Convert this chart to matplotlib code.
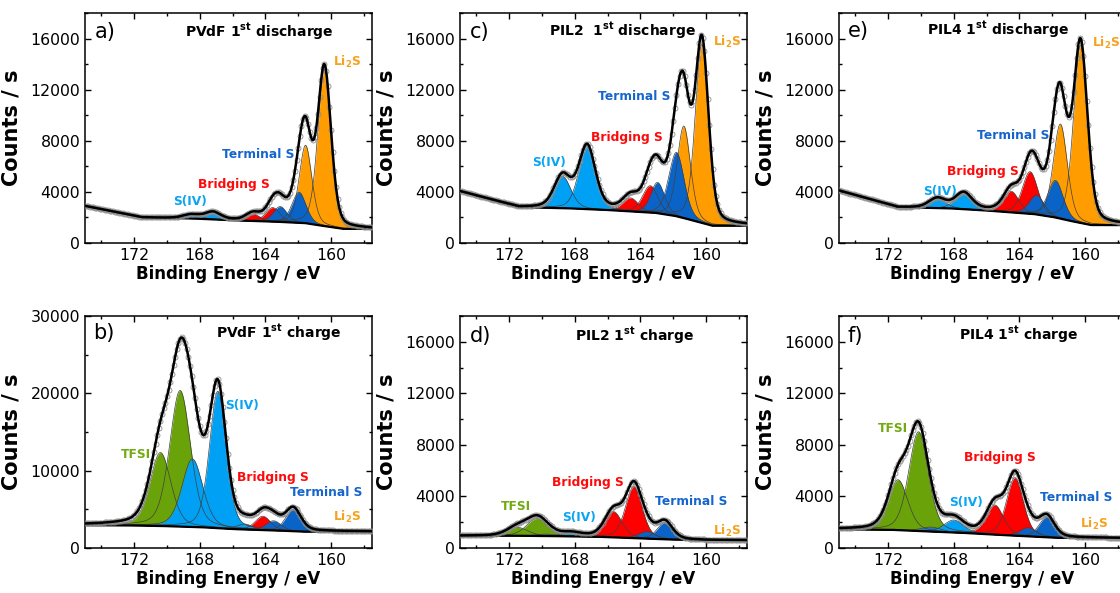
import numpy as np
import matplotlib.pyplot as plt
from matplotlib.ticker import MultipleLocator

plt.rcParams['font.family'] = ['DejaVu Sans']
plt.rcParams['mathtext.fontset'] = 'dejavusans'

FILL = {
    'li2s': '#FF9D00',
    'term': '#0A64C8',
    'bridge': '#FF0000',
    'siv': '#00A0F5',
    'sivb': '#1E78DC',
    'tfsi': '#6AA20A',
}
TEXTC = {
    'li2s': '#F7A21E',
    'term': '#1565CC',
    'bridge': '#FF0A0A',
    'siv': '#0AA5F2',
    'tfsi': '#72AA12',
}
# fill order seen in the figure (later ones sit on top)
ORDER = ['tfsi', 'li2s', 'bridge', 'term', 'sivb', 'siv']

# ---- a) PVdF 1st discharge ----
a_kind = ['siv', 'siv', 'bridge', 'bridge', 'term', 'term', 'li2s', 'li2s']
a_center = [168.5, 167.2, 164.75, 163.55, 163.1, 161.95, 161.55, 160.4]
a_height = [300, 550, 550, 1100, 1200, 2400, 6100, 12300]
a_fwhm = [1.2, 1.1, 1.0, 1.0, 1.0, 1.0, 0.9, 0.95]
a_bg_e = [175, 171.5, 168, 165.5, 163, 161.5, 160.3, 159.2, 157.5]
a_bg_y = [2900, 2000, 1900, 1750, 1650, 1550, 1300, 1100, 1100]

# ---- b) PVdF 1st charge ----
b_kind = ['tfsi', 'tfsi', 'siv', 'siv', 'bridge', 'bridge', 'term', 'term']
b_center = [170.4, 169.2, 168.45, 166.9, 165.25, 164.15, 163.5, 162.3]
b_height = [9500, 17600, 8800, 17700, 700, 1800, 1250, 2800]
b_fwhm = [1.5, 1.5, 1.5, 1.2, 1.1, 1.1, 1.1, 1.1]
b_bg_e = [175, 171.5, 169.5, 167.5, 166, 164, 162.5, 161.5, 157.5]
b_bg_y = [2950, 2900, 2800, 2650, 2450, 2300, 2200, 2100, 2100]

# ---- c) PIL2 1st discharge ----
c_kind = ['siv', 'siv', 'bridge', 'bridge', 'term', 'term', 'li2s', 'li2s']
c_center = [168.75, 167.25, 164.6, 163.4, 162.95, 161.8, 161.35, 160.25]
c_height = [2500, 4900, 1050, 2100, 2400, 5000, 7200, 14000]
c_fwhm = [1.2, 1.2, 1.1, 1.1, 1.0, 1.1, 0.95, 0.95]
c_bg_e = [175, 171.4, 168, 165.5, 163, 161.8, 160.6, 159.6, 157.5]
c_bg_y = [4050, 2800, 2700, 2550, 2350, 2100, 1700, 1350, 1350]

# ---- d) PIL2 1st charge ----
d_kind = ['tfsi', 'tfsi', 'sivb', 'siv', 'bridge', 'bridge', 'term', 'term']
d_center = [171.5, 170.3, 169.7, 168.2, 165.65, 164.4, 163.6, 162.5]
d_height = [650, 1350, 150, 250, 2000, 4000, 550, 1300]
d_fwhm = [1.5, 1.5, 1.4, 1.4, 1.25, 1.2, 1.2, 1.1]
d_bg_e = [175, 171, 168, 166, 164, 162, 160, 157.5]
d_bg_y = [950, 950, 900, 850, 750, 650, 600, 600]

# ---- e) PIL4 1st discharge ----
e_kind = ['siv', 'siv', 'bridge', 'bridge', 'term', 'term', 'li2s', 'li2s']
e_center = [169.0, 167.4, 164.5, 163.35, 162.95, 161.8, 161.5, 160.27]
e_height = [750, 1250, 1650, 3300, 1500, 2900, 7400, 13900]
e_fwhm = [1.2, 1.2, 1.1, 1.1, 1.1, 1.1, 1.0, 1.0]
e_bg_e = [175, 171.4, 168, 165.5, 163, 161.8, 160.6, 159.6, 157.5]
e_bg_y = [4100, 2800, 2700, 2500, 2250, 2000, 1650, 1400, 1400]

# ---- f) PIL4 1st charge ----
f_kind = ['tfsi', 'tfsi', 'sivb', 'siv', 'bridge', 'bridge', 'term', 'term']
f_center = [171.4, 170.15, 169.35, 168.0, 165.5, 164.27, 163.46, 162.33]
f_height = [3900, 7700, 350, 970, 2300, 4500, 670, 1550]
f_fwhm = [1.4, 1.4, 1.4, 1.4, 1.25, 1.2, 1.2, 1.1]
f_bg_e = [175, 171.5, 169, 167, 165, 163, 161.5, 157.5]
f_bg_y = [1450, 1400, 1250, 1150, 1000, 880, 780, 760]


def peak(e, c, h, w, eta=0.3):
    d = (e - c) / w
    return h * ((1 - eta) * np.exp(-4 * np.log(2) * d ** 2) + eta / (1 + 4 * d ** 2))


def draw_panel(ax, kind, center, height, fwhm, bg_e, bg_y, ymax, ystep, letter, title, labels):
    e = np.linspace(157.5, 175, 1400)
    bg = np.interp(e, bg_e[::-1], bg_y[::-1])
    total = bg.copy()
    comps = []
    for k, c, h, w in zip(kind, center, height, fwhm):
        comp = peak(e, c, h, w)
        total += comp
        comps.append((k, comp))
    for kk in ORDER:
        for k, comp in comps:
            if k == kk:
                ax.fill_between(e, bg, bg + comp, color=FILL[k], lw=0, zorder=2)
    for k, comp in comps:
        ax.plot(e, bg + comp, color='#404040', lw=0.5, zorder=2.1)
    ax.plot(e, bg, color='black', lw=1.6, zorder=3)
    # measured points
    em = np.arange(157.5, 175.001, 0.1)
    ym = np.interp(em, e, total)
    ax.plot(em, ym, 'o', mfc='none', mec='#8c8c8c', ms=3.6, mew=0.6, zorder=4)
    ax.plot(e, total, color='black', lw=1.8, zorder=5)

    ax.set_xlim(175, 157.5)
    ax.set_ylim(0, ymax)
    ax.xaxis.set_major_locator(MultipleLocator(4))
    ax.xaxis.set_minor_locator(MultipleLocator(2))
    ax.yaxis.set_major_locator(MultipleLocator(ystep))
    ax.yaxis.set_minor_locator(MultipleLocator(ystep / 2))
    ax.tick_params(which='both', direction='in', top=True, right=True, labelsize=11.3, pad=3.5)
    ax.tick_params(which='major', length=4.5, width=1)
    ax.tick_params(which='minor', length=2.5, width=1)
    for s in ax.spines.values():
        s.set_linewidth(1.1)
    ax.set_xlabel('Binding Energy / eV', fontsize=12, fontweight='bold')
    ax.set_ylabel('Counts / s', fontsize=15, fontweight='bold')
    ax.xaxis.set_label_coords(0.5, -0.095)
    ax.yaxis.set_label_coords(-0.22, 0.5)

    ax.text(letter[1], letter[2], letter[0], fontsize=15, ha='left', va='center')
    ax.text(title[1], title[2], title[0], fontsize=10, fontweight='bold', ha='left', va='center')
    for txt, k, x, y in labels:
        ax.text(x, y, txt, color=TEXTC[k], fontsize=8.8, fontweight='bold', ha='left', va='center')


fig = plt.figure(figsize=(11.2, 5.93), dpi=100)
W = 287 / 1120
lefts = [85 / 1120, 460 / 1120, 839 / 1120]
top_row = [(593 - 243) / 593, 230 / 593]
bot_row = [(593 - 548) / 593, 232 / 593]

li2s = r'Li$_\mathbf{2}$S'

ax = fig.add_axes([lefts[0], top_row[0], W, top_row[1]])
draw_panel(ax, a_kind, a_center, a_height, a_fwhm, a_bg_e, a_bg_y, 18000, 4000,
           ('a)', 174.4, 16500), (r'PVdF 1$^\mathbf{st}$ discharge', 168.9, 16500),
           [('S(IV)', 'siv', 169.6, 3220), ('Bridging S', 'bridge', 168.1, 4560),
            ('Terminal S', 'term', 166.65, 6900), (li2s, 'li2s', 159.9, 14140)])

ax = fig.add_axes([lefts[0], bot_row[0], W, bot_row[1]])
draw_panel(ax, b_kind, b_center, b_height, b_fwhm, b_bg_e, b_bg_y, 30000, 10000,
           ('b)', 174.5, 27850), (r'PVdF 1$^\mathbf{st}$ charge', 167.0, 27850),
           [('TFSI', 'tfsi', 172.8, 12090), ('S(IV)', 'siv', 166.45, 18430),
            ('Bridging S', 'bridge', 165.75, 9070), ('Terminal S', 'term', 162.5, 7200),
            (li2s, 'li2s', 159.86, 4010)])

ax = fig.add_axes([lefts[1], top_row[0], W, top_row[1]])
draw_panel(ax, c_kind, c_center, c_height, c_fwhm, c_bg_e, c_bg_y, 18000, 4000,
           ('c)', 174.4, 16500), (r'PIL2  1$^\mathbf{st}$ discharge', 169.6, 16600),
           [('S(IV)', 'siv', 170.6, 6280), ('Bridging S', 'bridge', 167.0, 8220),
            ('Terminal S', 'term', 166.6, 11460), (li2s, 'li2s', 159.6, 15750)])

ax = fig.add_axes([lefts[1], bot_row[0], W, bot_row[1]])
draw_panel(ax, d_kind, d_center, d_height, d_fwhm, d_bg_e, d_bg_y, 18000, 4000,
           ('d)', 174.4, 16440), (r'PIL2 1$^\mathbf{st}$ charge', 168.0, 16440),
           [('TFSI', 'tfsi', 172.5, 3230), ('S(IV)', 'siv', 168.8, 2330),
            ('Bridging S', 'bridge', 169.4, 5100), ('Terminal S', 'term', 163.1, 3620),
            (li2s, 'li2s', 159.55, 1290)])

ax = fig.add_axes([lefts[2], top_row[0], W, top_row[1]])
draw_panel(ax, e_kind, e_center, e_height, e_fwhm, e_bg_e, e_bg_y, 18000, 4000,
           ('e)', 174.45, 16590), (r'PIL4 1$^\mathbf{st}$ discharge', 169.65, 16660),
           [('S(IV)', 'siv', 169.9, 4020), ('Bridging S', 'bridge', 168.4, 5570),
            ('Terminal S', 'term', 166.6, 8420), (li2s, 'li2s', 159.6, 15680)])

ax = fig.add_axes([lefts[2], bot_row[0], W, bot_row[1]])
draw_panel(ax, f_kind, f_center, f_height, f_fwhm, f_bg_e, f_bg_y, 18000, 4000,
           ('f)', 174.5, 16430), (r'PIL4 1$^\mathbf{st}$ charge', 167.7, 16570),
           [('TFSI', 'tfsi', 172.6, 9260), ('S(IV)', 'siv', 168.3, 3520),
            ('Bridging S', 'bridge', 167.4, 7040), ('Terminal S', 'term', 162.75, 3910),
            (li2s, 'li2s', 160.3, 1880)])

fig.savefig('out.png', dpi=100)
